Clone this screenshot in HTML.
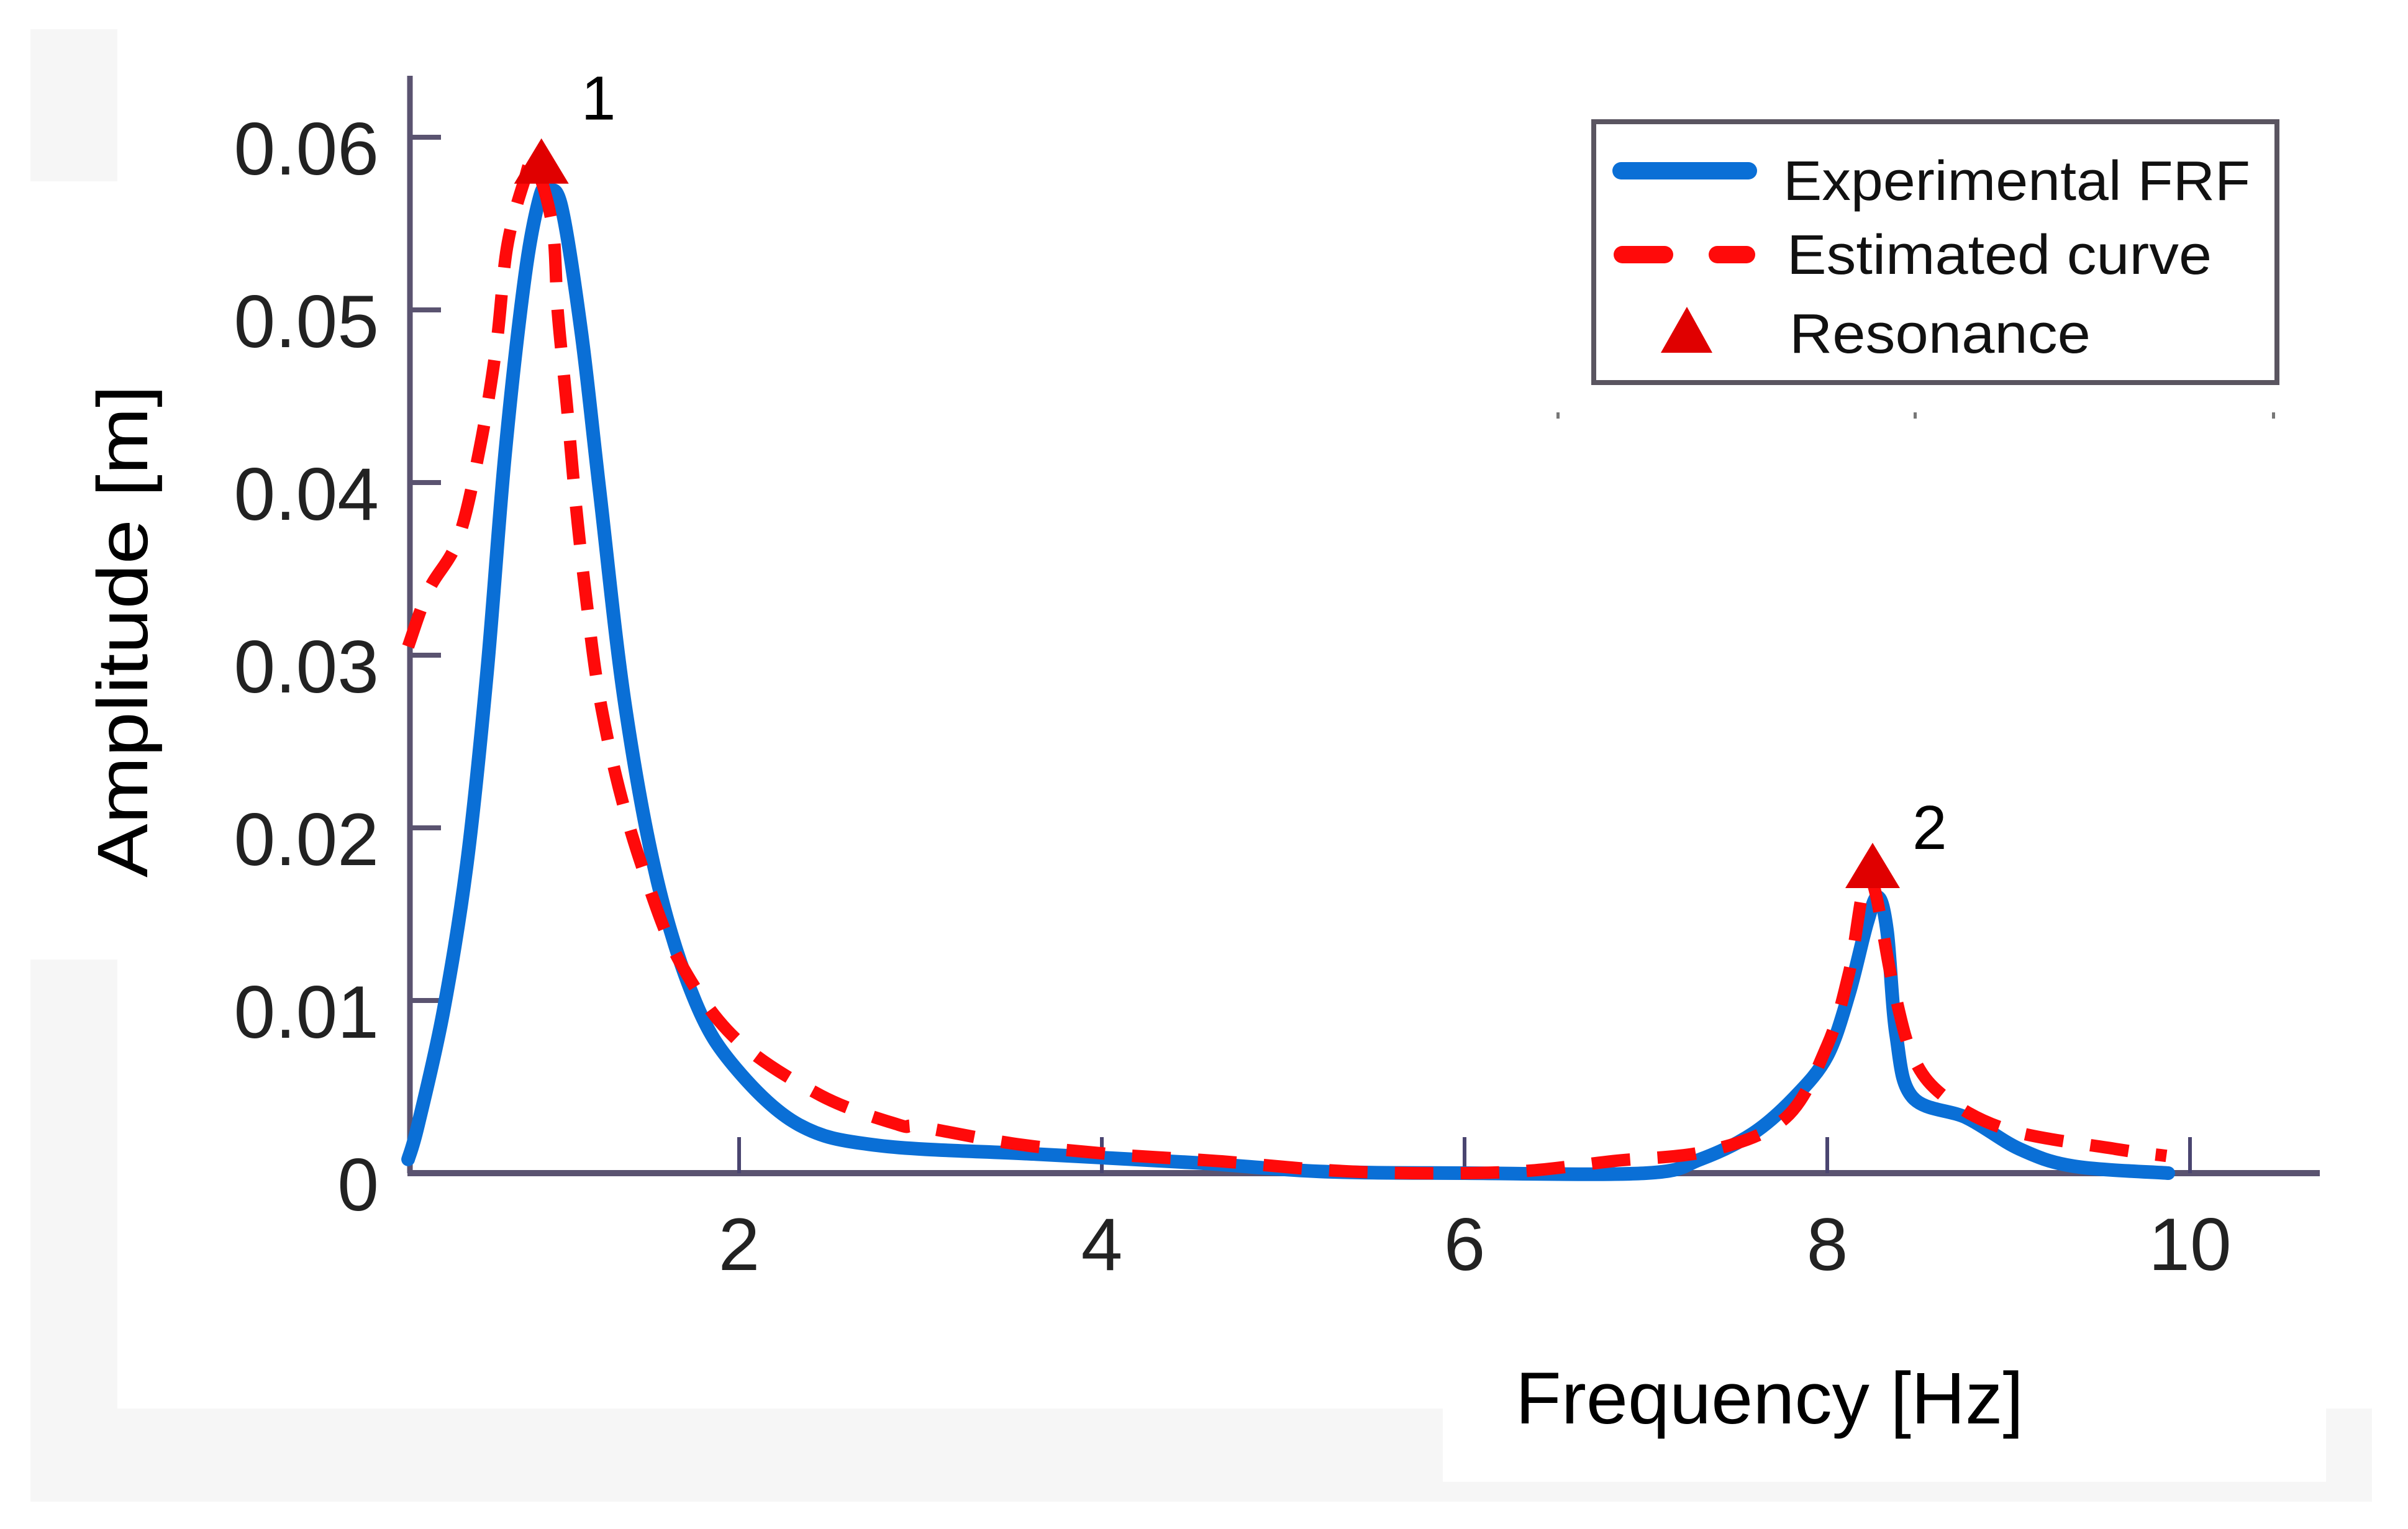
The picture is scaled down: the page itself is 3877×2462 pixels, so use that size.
<!DOCTYPE html>
<html><head><meta charset="utf-8"><style>
html,body{margin:0;padding:0;background:#fff;}
svg{display:block;}
text{font-family:"Liberation Sans",sans-serif;}
</style></head><body>
<svg id="chart" width="3877" height="2462" viewBox="0 0 3877 2462" xmlns="http://www.w3.org/2000/svg">
<rect x="0" y="0" width="3877" height="2462" fill="#fff"/>
<rect x="49" y="47" width="140" height="245" fill="#f6f6f6"/>
<rect x="49" y="1545" width="140" height="873" fill="#f6f6f6"/>
<rect x="49" y="2268" width="3770" height="150" fill="#f6f6f6"/>
<rect x="2323" y="2240" width="1422" height="146" fill="#fff"/>
<g id="plot"></g>
<g>
  <rect x="2566" y="196" width="1100" height="420" fill="#fff" stroke="#5a5560" stroke-width="8"/>
  <line x1="2610" y1="275" x2="2815" y2="275" stroke="#0a6fd6" stroke-width="28" stroke-linecap="round"/>
  <text x="2871" y="322" font-size="90" textLength="752" lengthAdjust="spacingAndGlyphs" fill="#111">Experimental FRF</text>
  <line x1="2612" y1="410" x2="2680" y2="410" stroke="#ff0a0a" stroke-width="28" stroke-linecap="round"/>
  <line x1="2765" y1="410" x2="2812" y2="410" stroke="#ff0a0a" stroke-width="28" stroke-linecap="round"/>
  <text x="2877" y="441" font-size="90" textLength="684" lengthAdjust="spacingAndGlyphs" fill="#111">Estimated curve</text>
  <polygon points="2716,494 2757,568 2674,568" fill="#e00000"/>
  <text x="2881" y="568" font-size="90" textLength="485" lengthAdjust="spacingAndGlyphs" fill="#111">Resonance</text>
  <rect x="2506" y="664" width="5" height="10" fill="#777"/>
  <rect x="3081" y="664" width="5" height="10" fill="#777"/>
  <rect x="3658" y="664" width="5" height="10" fill="#777"/>
</g>
<text transform="translate(237,1413) rotate(-90)" font-size="115" textLength="793" lengthAdjust="spacingAndGlyphs" fill="#000">Amplitude [m]</text>
<text x="2440" y="2292" font-size="118" textLength="818" lengthAdjust="spacingAndGlyphs" fill="#000">Frequency [Hz]</text>
</svg>
<script>
const xTicks = [2, 4, 6, 8, 10];
const xTickLabels = ["2", "4", "6", "8", "10"];
const yTicks = [0, 0.01, 0.02, 0.03, 0.04, 0.05, 0.06];
const yTickLabels = ["0", "0.01", "0.02", "0.03", "0.04", "0.05", "0.06"];
const expFreq = [0.175,0.23,0.37,0.50,0.61,0.71,0.82,0.90,0.945,1.02,1.13,1.23,1.37,1.55,1.76,1.98,2.33,2.77,3.64,4.52,5.2,6.0,7.0,7.3,7.59,7.82,8.0,8.12,8.22,8.28,8.33,8.38,8.47,8.77,9.06,9.36,9.88];
const expAmp  = [0.0008,0.0028,0.0094,0.018,0.029,0.0417,0.052,0.0565,0.0569,0.056,0.0487,0.0396,0.0272,0.0169,0.0099,0.0061,0.0028,0.0016,0.0011,0.0006,0.0001,0.0,0.0,0.0008,0.0023,0.0044,0.0068,0.0104,0.0145,0.016,0.014,0.008,0.0044,0.0032,0.0014,0.0004,0.0];
const estFreq = [0.175,0.29,0.45,0.57,0.66,0.72,0.81,0.87,0.97,1.0,1.05,1.1,1.16,1.23,1.34,1.48,1.67,1.98,2.45,2.88,2.99,3.52,4.05,4.64,5.2,5.7,6.3,6.82,7.35,7.77,8.0,8.12,8.23,8.36,8.47,8.65,9.0,9.59,9.87];
const estAmp  = [0.0305,0.0338,0.0367,0.042,0.0478,0.0536,0.0573,0.0585,0.0549,0.0499,0.0445,0.0387,0.033,0.0276,0.0222,0.0173,0.0123,0.0078,0.0045,0.0028,0.0027,0.0017,0.0011,0.0007,0.0002,0.0,0.0001,0.0007,0.0013,0.0032,0.0074,0.0116,0.0172,0.011,0.0068,0.0044,0.0025,0.0014,0.001];
const resFreq = [0.91, 8.25];
const resAmp  = [0.0585, 0.0177];
const resLabels = ["1", "2"];

const NS = "http://www.w3.org/2000/svg";
const X0 = 1190, XS = 292;
const Y0 = 1889, YS = 27800;
const labelDy = [-70, -30];
function xs(f){ return X0 + (f - 2) * XS; }
function ys(v){ return Y0 - v * YS; }
const plot = document.getElementById('plot');
function mk(tag, attrs){ const e = document.createElementNS(NS, tag); for (const k in attrs) e.setAttribute(k, attrs[k]); return e; }
function smoothPath(fs, vs){
  const p = fs.map((f,i)=>[xs(f), ys(vs[i])]);
  let d = `M${p[0][0]},${p[0][1]}`;
  for (let i=0;i<p.length-1;i++){
    const p0=p[Math.max(0,i-1)], p1=p[i], p2=p[i+1], p3=p[Math.min(p.length-1,i+2)];
    const c1=[p1[0]+(p2[0]-p0[0])/6, p1[1]+(p2[1]-p0[1])/6];
    const c2=[p2[0]-(p3[0]-p1[0])/6, p2[1]-(p3[1]-p1[1])/6];
    d += ` C${c1[0]},${c1[1]} ${c2[0]},${c2[1]} ${p2[0]},${p2[1]}`;
  }
  return d;
}
const yAxis = mk('line',{x1:660,y1:122,x2:660,y2:Y0,stroke:'#5a5370','stroke-width':9});


plot.appendChild(yAxis);
const xAxis = mk('line',{x1:656,y1:Y0,x2:3735,y2:Y0,stroke:'#5a5370','stroke-width':10});


plot.appendChild(xAxis);
yTicks.forEach((v,i)=>{
  if (i>0){
    const t = mk('line',{x1:660,y1:ys(v),x2:710,y2:ys(v),stroke:'#5a5370','stroke-width':8});
    
    
    plot.appendChild(t);
  }
  const l = mk('text',{x:610,y:ys(v)+60,'font-size':120,'text-anchor':'end',fill:'#222'});
  l.textContent = yTickLabels[i];
  
  
  plot.appendChild(l);
});
xTicks.forEach((f,i)=>{
  const t = mk('line',{x1:xs(f),y1:Y0,x2:xs(f),y2:Y0-58,stroke:'#4a4570','stroke-width':6});
  
  
  plot.appendChild(t);
  const l = mk('text',{x:xs(f),y:2045,'font-size':120,'text-anchor':'middle',fill:'#222'});
  l.textContent = xTickLabels[i];
  
  
  plot.appendChild(l);
});
const blue = mk('path',{d:smoothPath(expFreq,expAmp),fill:'none',stroke:'#0a6fd6','stroke-width':22,'stroke-linejoin':'round','stroke-linecap':'round'});


plot.appendChild(blue);
const red = mk('path',{d:smoothPath(estFreq,estAmp),fill:'none',stroke:'#ff0a0a','stroke-width':20,'stroke-dasharray':'62 44','stroke-linejoin':'round'});


plot.appendChild(red);
resFreq.forEach((f,i)=>{
  const cx = xs(f), cy = ys(resAmp[i]);
  const tri = mk('polygon',{points:`${cx},${cy-40} ${cx+44},${cy+33} ${cx-44},${cy+33}`,fill:'#e00000'});
  
  
  plot.appendChild(tri);
  const l = mk('text',{x:cx+64,y:cy+labelDy[i],'font-size':100,fill:'#000'});
  l.textContent = resLabels[i];
  
  
  plot.appendChild(l);
});
</script>
</body></html>
